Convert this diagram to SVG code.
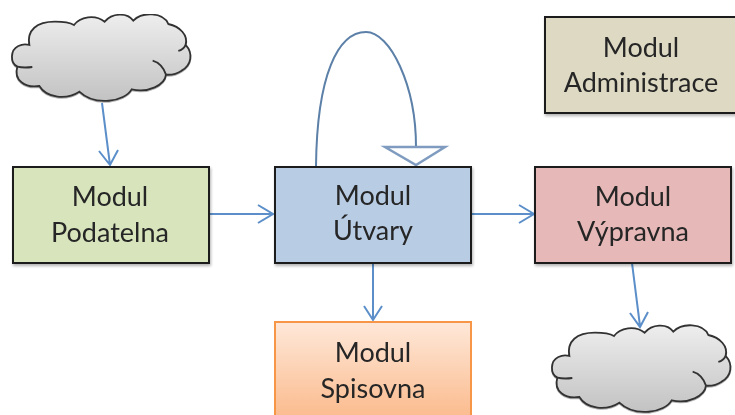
<svg xmlns="http://www.w3.org/2000/svg" width="735" height="415" viewBox="0 0 735 415">
<style>
.box{stroke:#1a1a1a;stroke-width:2;filter:url(#sh)}
.lbl{font-family:Lato,"Liberation Sans",sans-serif;font-size:27px;fill:#262626;text-anchor:middle}
.ln{fill:none;stroke:#5b8fc9;stroke-width:2}
</style>
<defs>
<filter id="soft" x="0" y="0" width="100%" height="100%"><feGaussianBlur stdDeviation="0.55"/></filter>
<filter id="sh" x="-10%" y="-10%" width="125%" height="125%"><feGaussianBlur in="SourceAlpha" stdDeviation="1.5"/><feOffset dx="1" dy="2"/><feComponentTransfer><feFuncA type="linear" slope="0.3"/></feComponentTransfer><feMerge><feMergeNode/><feMergeNode in="SourceGraphic"/></feMerge></filter>
<linearGradient id="cg" x1="0" y1="0" x2="0" y2="1"><stop offset="0" stop-color="#eeeeee"/><stop offset="1" stop-color="#c2c2c2"/></linearGradient>
<linearGradient id="og" x1="0" y1="0" x2="0" y2="1"><stop offset="0" stop-color="#fee8d9"/><stop offset="1" stop-color="#fbb98a"/></linearGradient>
<g id="cloud">
<path transform="scale(.3333)" fill="url(#cg)" stroke="#333" stroke-width="5.5" style="filter:url(#sh)" d="M88 135C80 90 110 65 165 65C190 65 210 68 222 75C240 50 285 42 314 65C335 40 380 35 400 62C425 35 490 35 505 72C540 80 565 105 557 135C580 160 575 195 545 212C530 222 510 225 498 224C495 255 445 280 395 268C375 305 285 320 238 275C200 300 140 295 118 258C75 265 40 240 52 200C30 190 30 150 55 138C65 133 78 132 88 135Z"/>
<path transform="scale(.3333)" fill="none" stroke="#333" stroke-width="5.5" d="M52 200C65 203 82 203 97 201M458 182C475 187 490 200 498 224M557 135C553 143 545 150 535 153"/>
</g>
</defs>
<rect width="735" height="415" fill="#fff"/>
<g filter="url(#soft)">
<g id="connectors">
<path class="ln" d="M102 103L110 165M99 151L110 165L118 150"/>
<path class="ln" d="M209 214H273M258 205L273 214L258 223"/>
<path class="ln" d="M471 214H534M519 205L534 214L519 223"/>
<path class="ln" d="M373 263V320M364 306L373 320L382 306"/>
<path class="ln" d="M632 263L640 326M630 313L640 327L648 312"/>
<path fill="none" stroke="#5c80a8" stroke-width="2" d="M316 166C317 75 338 32 366 32C390 32 416 85 416 147"/>
<path fill="#fff" stroke="#7f9cc0" stroke-width="2.5" d="M385 147H445L416 165Z"/>
</g>
<g id="cloud-top"><use href="#cloud"/></g>
<g id="cloud-bottom"><use href="#cloud" x="540" y="311"/></g>
<g id="podatelna"><rect class="box" x="13" y="167" width="196" height="96" fill="#d7e4bc"/><text class="lbl" x="110" y="206">Modul</text><text class="lbl" x="110" y="242">Podatelna</text></g>
<g id="utvary"><rect class="box" x="275" y="167" width="196" height="96" fill="#b8cce4"/><text class="lbl" x="373" y="205">Modul</text><text class="lbl" x="373" y="240">Útvary</text></g>
<g id="vypravna"><rect class="box" x="535" y="167" width="196" height="96" fill="#e6b9b8"/><text class="lbl" x="633" y="206">Modul</text><text class="lbl" x="633" y="241">Výpravna</text></g>
<g id="administrace"><rect class="box" x="545" y="17" width="196" height="96" fill="#ddd9c3"/><text class="lbl" x="641" y="57">Modul</text><text class="lbl" x="641" y="92">Administrace</text></g>
<g id="spisovna"><rect x="275" y="322" width="196" height="100" fill="url(#og)" stroke="#f79646" stroke-width="2"/><text class="lbl" x="373" y="362">Modul</text><text class="lbl" x="373" y="398">Spisovna</text></g>
</g>
</svg>
